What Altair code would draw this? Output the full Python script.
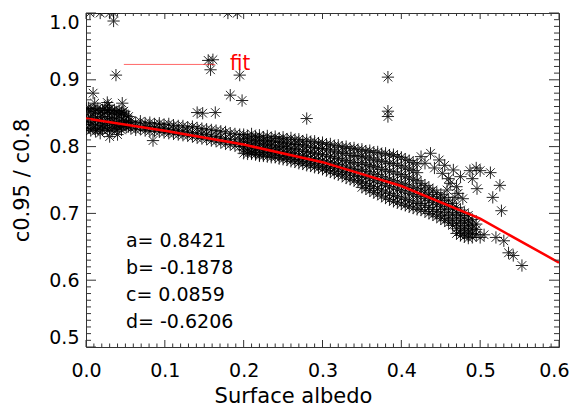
import altair as alt
import pandas as pd

# ---- data ----
# dense band: albedo followed by the ratio values seen at that albedo
band_rows = [
    (0.000, 0.857, 0.846, 0.836, 0.826),
    (0.003, 0.852, 0.840, 0.829, 0.858),
    (0.006, 0.855, 0.843, 0.833, 0.824),
    (0.009, 0.849, 0.838, 0.827, 0.856),
    (0.012, 0.853, 0.844, 0.831, 0.823),
    (0.015, 0.857, 0.841, 0.835, 0.826),
    (0.018, 0.850, 0.839, 0.828, 0.854),
    (0.021, 0.855, 0.845, 0.832, 0.825),
    (0.024, 0.851, 0.837, 0.829, 0.858),
    (0.027, 0.854, 0.843, 0.834, 0.824),
    (0.030, 0.849, 0.840, 0.827, 0.856),
    (0.033, 0.853, 0.842, 0.831, 0.823),
    (0.036, 0.850, 0.838, 0.829, 0.855),
    (0.039, 0.852, 0.844, 0.833, 0.826),
    (0.042, 0.848, 0.837, 0.828, 0.854),
    (0.045, 0.851, 0.841, 0.830, 0.825),
    (0.048, 0.849, 0.839, 0.832, 0.853),
    (0.051, 0.847, 0.836, 0.829),
    (0.054, 0.845, 0.838, 0.830),
    (0.057, 0.838, 0.832, 0.827),
    (0.063, 0.836, 0.830, 0.825),
    (0.069, 0.838, 0.831, 0.826),
    (0.075, 0.835, 0.829, 0.824),
    (0.081, 0.836, 0.830, 0.823),
    (0.087, 0.834, 0.828, 0.823),
    (0.093, 0.835, 0.829, 0.822),
    (0.099, 0.833, 0.827, 0.821),
    (0.105, 0.834, 0.826, 0.820),
    (0.111, 0.832, 0.826, 0.819),
    (0.117, 0.831, 0.824, 0.818),
    (0.123, 0.831, 0.823, 0.817),
    (0.129, 0.829, 0.822, 0.816),
    (0.135, 0.830, 0.821, 0.815),
    (0.141, 0.828, 0.820, 0.813),
    (0.147, 0.827, 0.819, 0.812),
    (0.153, 0.826, 0.818, 0.811),
    (0.159, 0.825, 0.816, 0.809),
    (0.165, 0.824, 0.815, 0.808),
    (0.171, 0.823, 0.814, 0.806),
    (0.177, 0.822, 0.812, 0.804),
    (0.183, 0.820, 0.811, 0.803),
    (0.189, 0.819, 0.810, 0.801),
    (0.195, 0.818, 0.808, 0.800),
    (0.200, 0.818, 0.812, 0.806, 0.800, 0.795, 0.790),
    (0.205, 0.816, 0.810, 0.803, 0.798, 0.793, 0.789),
    (0.210, 0.819, 0.813, 0.807, 0.801, 0.796, 0.791),
    (0.215, 0.815, 0.809, 0.804, 0.797, 0.792, 0.788),
    (0.220, 0.817, 0.811, 0.805, 0.799, 0.794, 0.788),
    (0.225, 0.814, 0.808, 0.802, 0.796, 0.791, 0.786),
    (0.230, 0.816, 0.809, 0.803, 0.797, 0.791, 0.785),
    (0.235, 0.813, 0.807, 0.801, 0.795, 0.789, 0.784),
    (0.240, 0.815, 0.808, 0.801, 0.795, 0.790, 0.784),
    (0.245, 0.812, 0.806, 0.799, 0.793, 0.787, 0.782),
    (0.250, 0.814, 0.807, 0.800, 0.793, 0.787, 0.781),
    (0.255, 0.811, 0.804, 0.798, 0.791, 0.785, 0.780),
    (0.260, 0.813, 0.805, 0.797, 0.790, 0.784, 0.778),
    (0.265, 0.810, 0.803, 0.796, 0.789, 0.783, 0.777),
    (0.270, 0.811, 0.803, 0.795, 0.787, 0.781, 0.775),
    (0.275, 0.808, 0.801, 0.793, 0.786, 0.780, 0.774),
    (0.280, 0.810, 0.801, 0.793, 0.785, 0.778, 0.772),
    (0.285, 0.807, 0.799, 0.791, 0.783, 0.777, 0.771),
    (0.290, 0.808, 0.799, 0.790, 0.782, 0.775, 0.769),
    (0.295, 0.805, 0.797, 0.789, 0.781, 0.774, 0.768),
    (0.300, 0.806, 0.797, 0.788, 0.779, 0.772, 0.766),
    (0.305, 0.803, 0.795, 0.786, 0.778, 0.770, 0.764),
    (0.310, 0.804, 0.795, 0.785, 0.776, 0.769, 0.762),
    (0.315, 0.801, 0.792, 0.783, 0.775, 0.767, 0.760),
    (0.320, 0.802, 0.792, 0.782, 0.773, 0.765, 0.758),
    (0.325, 0.799, 0.790, 0.780, 0.771, 0.763, 0.756),
    (0.330, 0.800, 0.790, 0.779, 0.769, 0.761, 0.753),
    (0.335, 0.797, 0.787, 0.777, 0.767, 0.759, 0.751),
    (0.340, 0.798, 0.787, 0.776, 0.766, 0.757, 0.749),
    (0.345, 0.795, 0.785, 0.774, 0.764, 0.755, 0.747),
    (0.350, 0.796, 0.786, 0.776, 0.766, 0.756, 0.747, 0.739),
    (0.355, 0.793, 0.783, 0.773, 0.763, 0.754, 0.745, 0.737),
    (0.360, 0.794, 0.783, 0.772, 0.762, 0.752, 0.742, 0.734),
    (0.365, 0.791, 0.780, 0.770, 0.759, 0.749, 0.740, 0.731),
    (0.370, 0.792, 0.780, 0.769, 0.758, 0.747, 0.737, 0.729),
    (0.375, 0.789, 0.778, 0.766, 0.755, 0.745, 0.735, 0.726),
    (0.380, 0.790, 0.777, 0.765, 0.753, 0.742, 0.732, 0.723),
    (0.385, 0.787, 0.775, 0.763, 0.751, 0.740, 0.730, 0.721),
    (0.390, 0.788, 0.775, 0.762, 0.749, 0.738, 0.727, 0.718),
    (0.395, 0.785, 0.772, 0.759, 0.747, 0.736, 0.725, 0.716),
    (0.400, 0.784, 0.771, 0.758, 0.745, 0.734, 0.723, 0.714),
    (0.405, 0.781, 0.768, 0.755, 0.743, 0.732, 0.721, 0.712),
    (0.410, 0.779, 0.766, 0.753, 0.741, 0.730, 0.719, 0.710),
    (0.415, 0.776, 0.764, 0.751, 0.739, 0.728, 0.717, 0.708),
    (0.420, 0.774, 0.761, 0.749, 0.737, 0.726, 0.715, 0.706),
    (0.425, 0.745, 0.735, 0.725, 0.715, 0.705),
    (0.430, 0.742, 0.732, 0.722, 0.712, 0.703),
    (0.435, 0.738, 0.728, 0.719, 0.709, 0.700),
    (0.440, 0.735, 0.725, 0.716, 0.706, 0.698),
    (0.445, 0.731, 0.722, 0.713, 0.703, 0.695),
    (0.450, 0.728, 0.719, 0.710, 0.701, 0.692),
    (0.455, 0.724, 0.715, 0.706, 0.697, 0.689),
    (0.460, 0.720, 0.711, 0.702, 0.693, 0.686),
    (0.465, 0.715, 0.707, 0.698, 0.690, 0.682),
    (0.470, 0.709, 0.701, 0.693, 0.685, 0.677, 0.670),
    (0.475, 0.705, 0.697, 0.689, 0.681, 0.674, 0.667),
    (0.480, 0.701, 0.693, 0.686, 0.678, 0.671, 0.665),
    (0.485, 0.697, 0.689, 0.682, 0.675, 0.669, 0.663),
    (0.490, 0.691, 0.684, 0.677, 0.670, 0.664),
    (0.495, 0.684, 0.676, 0.668),
]

# isolated points (outliers and the loose upper/right scatter)
out_x = [0.005, 0.018, 0.030, 0.035, 0.035, 0.180, 0.192, 0.038, 0.155, 0.161,
         0.158, 0.195, 0.183, 0.198, 0.383, 0.383, 0.383, 0.280, 0.009, 0.011,
         0.027, 0.028, 0.046, 0.141, 0.148, 0.164, 0.085, 0.030, 0.040, 0.018,
         0.210, 0.220,
         0.425, 0.430, 0.437, 0.442, 0.448, 0.452, 0.455, 0.460, 0.462, 0.466,
         0.470, 0.472, 0.468, 0.458, 0.475, 0.478, 0.487, 0.495, 0.500, 0.513,
         0.490, 0.496, 0.525, 0.516, 0.527, 0.500, 0.520, 0.530, 0.536, 0.542,
         0.553, 0.505]
out_y = [1.000, 1.000, 1.000, 1.000, 0.988, 1.000, 1.000, 0.907, 0.929, 0.930,
         0.915, 0.907, 0.877, 0.869, 0.904, 0.853, 0.845, 0.842, 0.880, 0.865,
         0.866, 0.862, 0.865, 0.851, 0.850, 0.851, 0.809, 0.815, 0.818, 0.820,
         0.789, 0.786,
         0.785, 0.775, 0.790, 0.768, 0.780, 0.760, 0.772, 0.752, 0.745, 0.765,
         0.740, 0.730, 0.724, 0.735, 0.755, 0.722, 0.764, 0.768, 0.764, 0.761,
         0.752, 0.737, 0.742, 0.724, 0.704, 0.664, 0.664, 0.659, 0.641, 0.637,
         0.622, 0.668]

# fitted curve as drawn (knots every 0.1)
fit_x = [0.0, 0.1, 0.2, 0.3, 0.4, 0.5, 0.6]
fit_y = [0.8421, 0.8236, 0.8030, 0.7767, 0.7410, 0.6921, 0.6263]

coef_labels = ["a= 0.8421", "b= -0.1878", "c= 0.0859", "d= -0.6206"]
coef_y = [0.649, 0.610, 0.569, 0.529]

legend_x = [0.048, 0.164]
legend_y = [0.923, 0.923]

x_major = [0.0, 0.1, 0.2, 0.3, 0.4, 0.5, 0.6]
y_major = [0.5, 0.6, 0.7, 0.8, 0.9, 1.0]
x_minor = [round(i / 100, 2) for i in range(61) if i % 10]
y_minor = [round(0.5 + i / 100, 2) for i in range(51) if i % 10]

# ---- build tables ----
px, py = [], []
for row in band_rows:
    for v in row[1:]:
        px.append(row[0])
        py.append(v)
px += out_x
py += out_y
pts = pd.DataFrame({"x": px, "y": py})
fit = pd.DataFrame({"x": fit_x, "y": fit_y})
coef = pd.DataFrame({"x": [0.0507] * 4, "y": coef_y, "t": coef_labels})
leg = pd.DataFrame({"x": legend_x, "y": legend_y})

W, H = 473, 334
FONT = "DejaVu Sans"
xs = alt.Scale(domain=[0, 0.6], nice=False, zero=False)
ys = alt.Scale(domain=[0.5, 1.0], nice=False, zero=False)

xaxis = alt.Axis(values=x_major, format=".1f", ticks=False, domain=False, grid=False,
                 labelFont=FONT, labelFontSize=19, labelColor="black", labelPadding=14,
                 labelFlush=False, labelOverlap=False,
                 labelAlign={"expr": "datum.value > 0.55 ? 'right' : 'center'"},
                 labelOffset={"expr": "datum.value > 0.55 ? 10 : 0"},
                 title="Surface albedo", titleFont=FONT, titleFontSize=21,
                 titleFontWeight="normal", titleColor="black",
                 titleX=207, titleY=55, titleAlign="center", titleBaseline="alphabetic")
yaxis = alt.Axis(values=y_major, format=".1f", ticks=False, domain=False, grid=False,
                 labelFont=FONT, labelFontSize=19, labelColor="black", labelPadding=7,
                 labelFlush=True, labelOverlap=False,
                 title="c0.95 / c0.8", titleFont=FONT, titleFontSize=21,
                 titleFontWeight="normal", titleColor="black",
                 titleX=-58, titleY=167, titleAngle=-90, titleAlign="center",
                 titleBaseline="alphabetic")

X = alt.X("x:Q", scale=xs, axis=xaxis)
Y = alt.Y("y:Q", scale=ys, axis=yaxis)

STAR = "M-1,0L1,0M0,-1L0,1M-0.707,-0.707L0.707,0.707M-0.707,0.707L0.707,-0.707"

points = alt.Chart(pts).mark_point(
    shape=STAR, filled=False, size=150, stroke="black", strokeWidth=1,
    opacity=0.85, clip=True
).encode(x=X, y=Y)

curve = alt.Chart(fit).mark_line(color="#ff0000", strokeWidth=2.5, clip=True).encode(x=X, y=Y)

legline = alt.Chart(leg).mark_line(color="#ff0000", strokeWidth=1, opacity=0.6).encode(x=X, y=Y)
legtext = alt.Chart(pd.DataFrame({"x": [0.1827], "y": [0.9144], "t": ["fit"]})).mark_text(
    font="DejaVu Sans Condensed", fontSize=22, color="#ff0000", align="left",
    baseline="alphabetic"
).encode(x=X, y=Y, text="t:N")

coeftext = alt.Chart(coef).mark_text(
    font=FONT, fontSize=19, color="black", align="left", baseline="alphabetic"
).encode(x=X, y=Y, text="t:N")

TC = "#333333"
xt = pd.DataFrame({"x": x_major})
xm = pd.DataFrame({"x": x_minor})
yt = pd.DataFrame({"y": y_major})
ym = pd.DataFrame({"y": y_minor})

ticks = [
    alt.Chart(xt).mark_rule(color=TC).encode(x=X, y=alt.value(H), y2=alt.value(H - 7)),
    alt.Chart(xm).mark_rule(color=TC).encode(x=X, y=alt.value(H), y2=alt.value(H - 3.5)),
    alt.Chart(xt).mark_rule(color=TC).encode(x=X, y=alt.value(0), y2=alt.value(6)),
    alt.Chart(xm).mark_rule(color=TC).encode(x=X, y=alt.value(0), y2=alt.value(3)),
    alt.Chart(yt).mark_rule(color=TC).encode(y=Y, x=alt.value(0), x2=alt.value(10)),
    alt.Chart(ym).mark_rule(color=TC).encode(y=Y, x=alt.value(0), x2=alt.value(5)),
    alt.Chart(yt).mark_rule(color=TC).encode(y=Y, x=alt.value(W), x2=alt.value(W - 10)),
    alt.Chart(ym).mark_rule(color=TC).encode(y=Y, x=alt.value(W), x2=alt.value(W - 5)),
]

chart = alt.layer(points, curve, legline, legtext, coeftext, *ticks).properties(
    width=W, height=H,
    autosize=alt.AutoSizeParams(type="none"),
    padding={"left": 78, "top": 5, "right": 10, "bottom": 60},
    background="white",
).configure_view(stroke=TC, strokeWidth=1)

chart.save("out.html", embed_options={"renderer": "svg", "actions": False})
